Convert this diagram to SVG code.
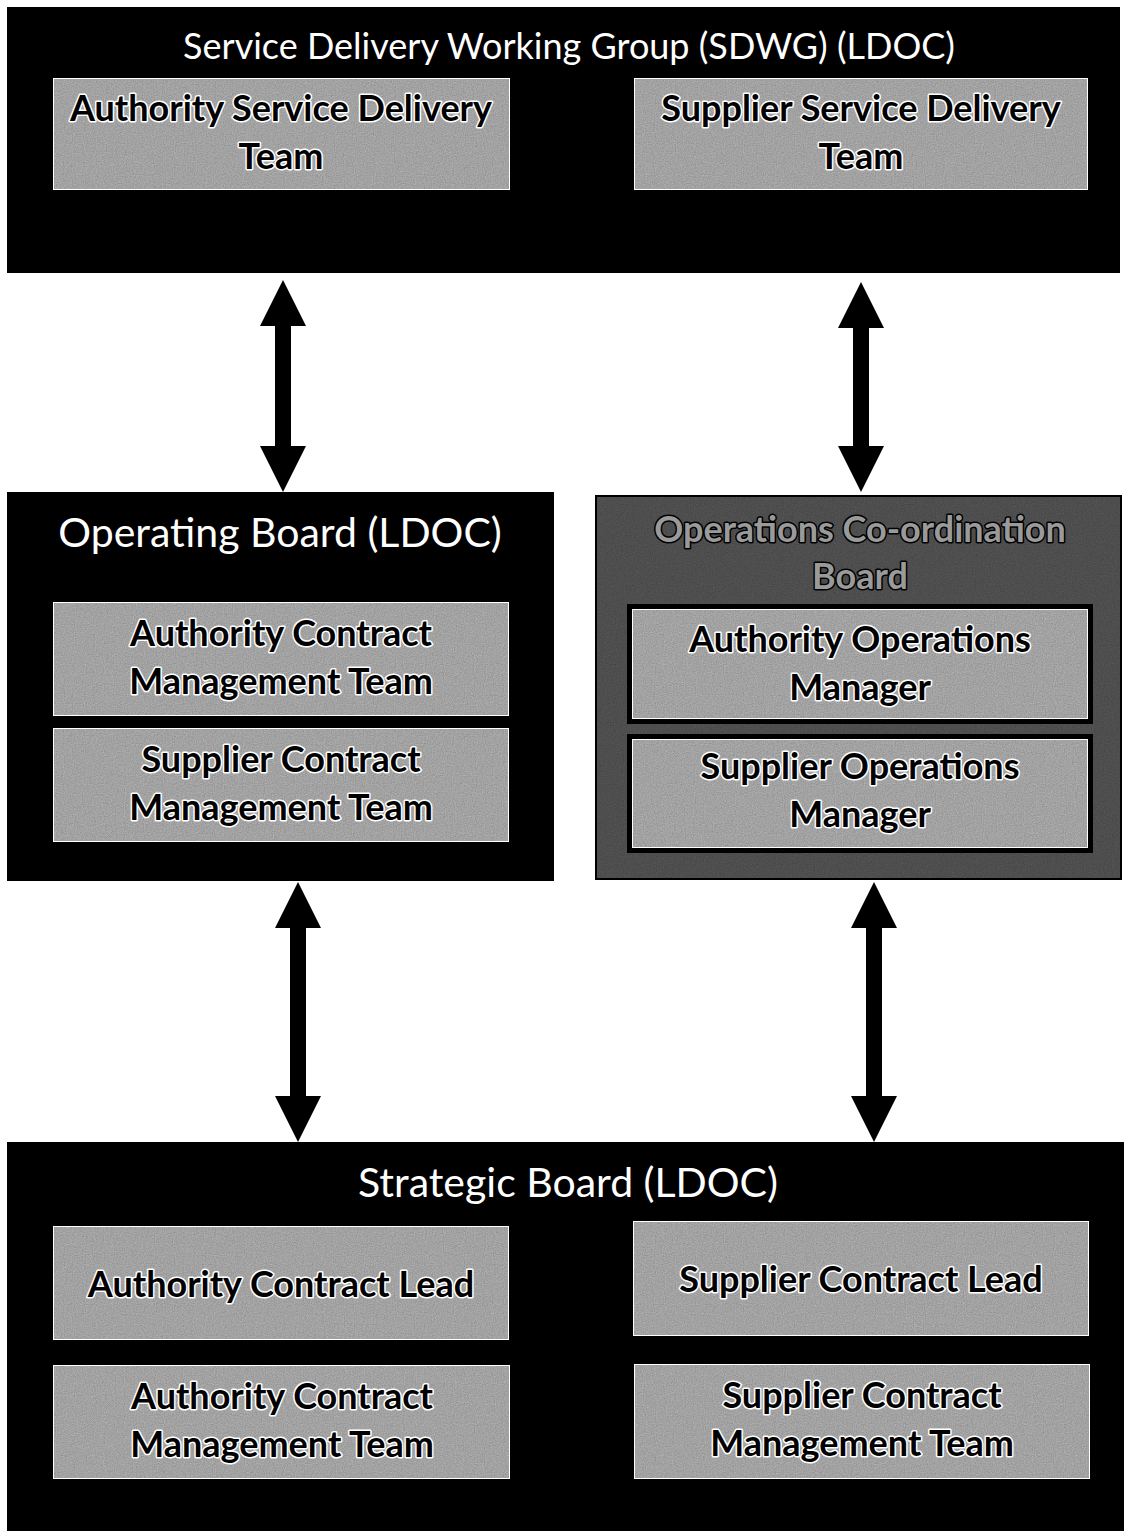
<svg xmlns="http://www.w3.org/2000/svg" width="1124" height="1531" viewBox="0 0 1124 1531">
<defs>
<filter id="noise" x="0" y="0" width="100%" height="100%">
<feTurbulence type="fractalNoise" baseFrequency="0.9" numOctaves="2" seed="3" result="t"/>
<feColorMatrix in="t" type="saturate" values="0" result="g"/>
<feComponentTransfer in="g" result="n"><feFuncA type="linear" slope="0" intercept="0.45"/></feComponentTransfer>
<feComposite in="n" in2="SourceGraphic" operator="in" result="m"/>
<feBlend in="m" in2="SourceGraphic" mode="overlay"/>
</filter>
</defs>
<style>
.outer{fill:#000}
.inner{fill:#a2a2a2;stroke:#fff;stroke-width:2}
.title{font-family:Lato,"Liberation Sans",sans-serif;fill:#fff;text-anchor:middle}
.lbl{font-family:Lato,"Liberation Sans",sans-serif;font-weight:bold;font-size:36px;fill:#000;stroke:#fff;stroke-width:3;paint-order:stroke;stroke-linejoin:round;text-anchor:middle}
.otitle{font-family:Lato,"Liberation Sans",sans-serif;font-weight:bold;font-size:36px;fill:#9a9a9a;stroke:#000;stroke-width:3;paint-order:stroke;stroke-linejoin:round;text-anchor:middle}
.arrow{fill:#000}
</style>
<rect width="1124" height="1531" fill="#fff"/>

<g id="sdwg">
<rect class="outer" x="7" y="7" width="1113" height="266"/>
<text class="title" x="569" y="59" font-size="36">Service Delivery Working Group (SDWG) (LDOC)</text>
<g id="auth-sdt">
<rect class="inner" x="53" y="78" width="457" height="112" filter="url(#noise)"/>
<text class="lbl" x="281" y="121">Authority Service Delivery</text>
<text class="lbl" x="281" y="169">Team</text>
</g>
<g id="supp-sdt">
<rect class="inner" x="634" y="78" width="454" height="112" filter="url(#noise)"/>
<text class="lbl" x="861" y="121">Supplier Service Delivery</text>
<text class="lbl" x="861" y="169">Team</text>
</g>
</g>

<g id="operating-board">
<rect class="outer" x="7" y="492" width="547" height="389"/>
<text class="title" x="280" y="547" font-size="41">Operating Board (LDOC)</text>
<g id="ob-auth">
<rect class="inner" x="53" y="602" width="456" height="114" filter="url(#noise)"/>
<text class="lbl" x="281" y="646">Authority Contract</text>
<text class="lbl" x="281" y="694">Management Team</text>
</g>
<g id="ob-supp">
<rect class="inner" x="53" y="728" width="456" height="114" filter="url(#noise)"/>
<text class="lbl" x="281" y="772">Supplier Contract</text>
<text class="lbl" x="281" y="820">Management Team</text>
</g>
</g>

<g id="ops-board">
<rect x="595" y="495" width="527" height="385" fill="#4e4e4e" stroke="#000" stroke-width="4" filter="url(#noise)"/>
<text class="otitle" x="860" y="542">Operations Co-ordination</text>
<text class="otitle" x="860" y="589">Board</text>
<g id="ops-auth">
<rect x="627" y="604" width="466" height="120" fill="#000"/>
<rect class="inner" x="632" y="609" width="456" height="110" filter="url(#noise)"/>
<text class="lbl" x="860" y="652">Authority Operations</text>
<text class="lbl" x="860" y="700">Manager</text>
</g>
<g id="ops-supp">
<rect x="627" y="734" width="466" height="119" fill="#000"/>
<rect class="inner" x="632" y="739" width="456" height="109" filter="url(#noise)"/>
<text class="lbl" x="860" y="779">Supplier Operations</text>
<text class="lbl" x="860" y="827">Manager</text>
</g>
</g>

<g id="strategic-board">
<rect class="outer" x="7" y="1142" width="1117" height="389"/>
<text class="title" x="568" y="1197" font-size="41">Strategic Board (LDOC)</text>
<g id="sb-auth-lead">
<rect class="inner" x="53" y="1226" width="456" height="114" filter="url(#noise)"/>
<text class="lbl" x="281" y="1297">Authority Contract Lead</text>
</g>
<g id="sb-supp-lead">
<rect class="inner" x="633" y="1221" width="456" height="115" filter="url(#noise)"/>
<text class="lbl" x="861" y="1292">Supplier Contract Lead</text>
</g>
<g id="sb-auth-cmt">
<rect class="inner" x="53" y="1365" width="457" height="114" filter="url(#noise)"/>
<text class="lbl" x="282" y="1409">Authority Contract</text>
<text class="lbl" x="282" y="1457">Management Team</text>
</g>
<g id="sb-supp-cmt">
<rect class="inner" x="634" y="1364" width="456" height="115" filter="url(#noise)"/>
<text class="lbl" x="862" y="1408">Supplier Contract</text>
<text class="lbl" x="862" y="1456">Management Team</text>
</g>
</g>

<g id="connectors">
<polygon class="arrow" points="283,280 306,326 291,326 291,446 306,446 283,492 260,446 275,446 275,326 260,326"/>
<polygon class="arrow" points="861,282 884,328 869,328 869,446 884,446 861,492 838,446 853,446 853,328 838,328"/>
<polygon class="arrow" points="298,882 321,928 306,928 306,1096 321,1096 298,1142 275,1096 290,1096 290,928 275,928"/>
<polygon class="arrow" points="874,882 897,928 882,928 882,1096 897,1096 874,1142 851,1096 866,1096 866,928 851,928"/>
</g>
</svg>
